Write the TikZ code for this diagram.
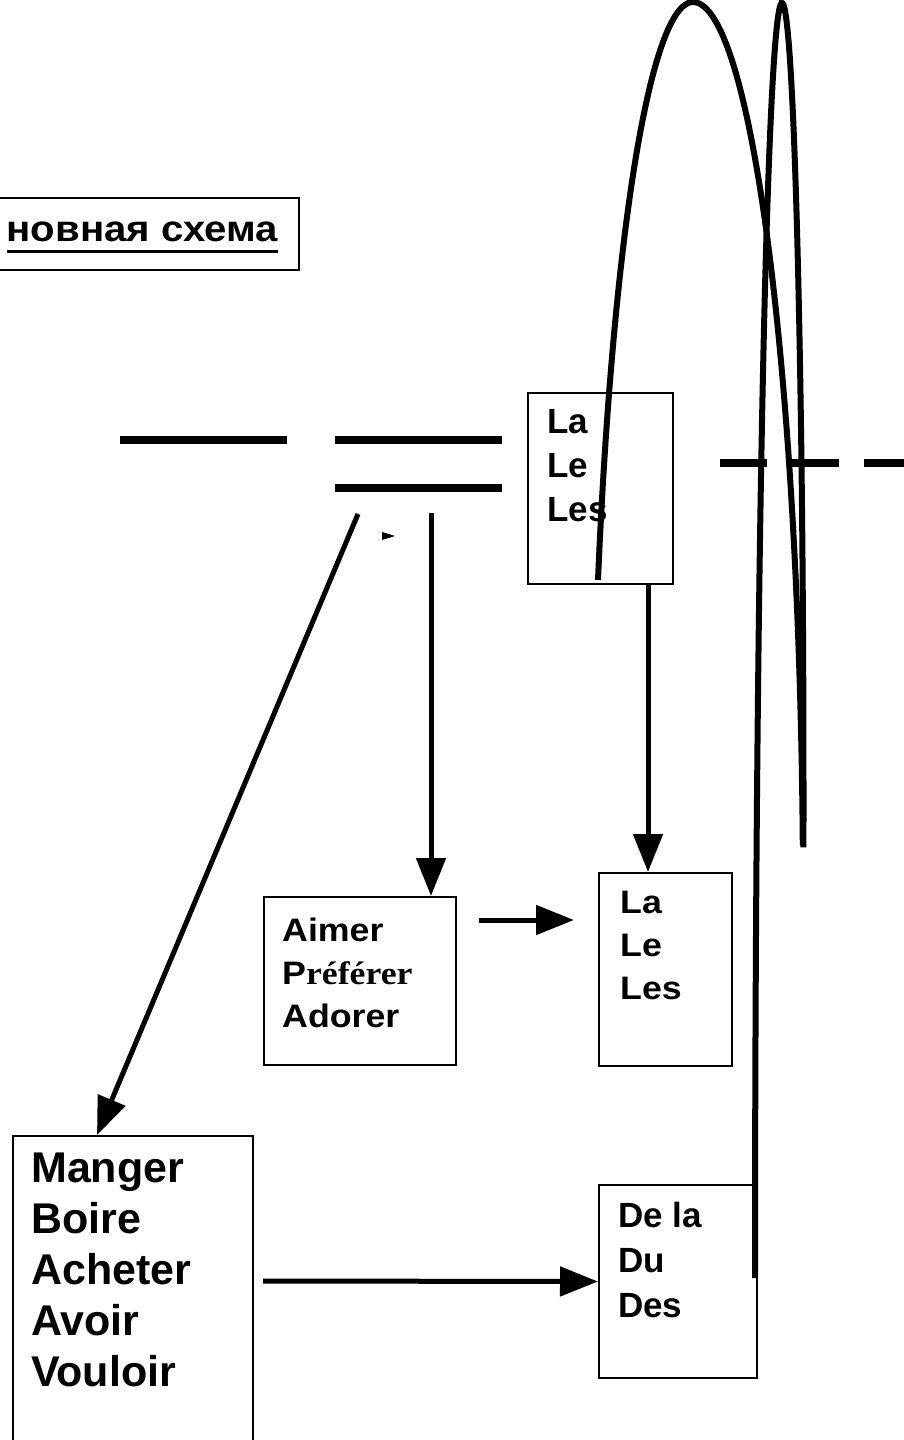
\documentclass[tikz,border=0pt]{standalone}
\usepackage{fontspec}
\setmainfont{Liberation Sans}
\newfontfamily\widesans{Liberation Sans}[FakeStretch=1.1]
\newfontfamily\wideserif{Liberation Serif}[FakeStretch=1.1]
\usetikzlibrary{arrows.meta}

\tikzset{
  box/.style={draw, line width=2pt, inner sep=0pt, anchor=north west},
  words/.style={inner sep=0pt, anchor=north west, align=left},
  bigwords/.style={words, font=\fontsize{43}{51}\selectfont\bfseries},
  midwords/.style={words, font=\fontsize{35}{44}\selectfont\bfseries},
  widewords/.style={words, font=\widesans\fontsize{32.5}{43}\selectfont\bfseries},
  blank/.style={line width=8pt},
  arr/.style={line width=5pt, -{Triangle[length=38pt,width=29pt]}},
  loopline/.style={line width=6pt},
}

\begin{document}
\begin{tikzpicture}[x=1pt, y=-1pt]
  \useasboundingbox (0,0) rectangle (903,1440);

  % title
  \node[box, minimum width=318pt, minimum height=72pt] (ttlbox) at (-20,197) {};
  \node[inner sep=0pt, anchor=base east, font=\widesans\fontsize{36.5}{40}\selectfont\bfseries] (ttl) at (278,241) {новная схема};
  \draw[line width=3pt] ([yshift=-10pt]ttl.base west) -- ([yshift=-10pt]ttl.base east);

  % blanks of the sentence
  \draw[blank] (120,440) -- (287,440);
  \draw[blank] (335,440) -- (502,440);
  \draw[blank] (335,488) -- (502,488);
  \draw[blank, dash pattern=on 47pt off 25pt] (720,463) -- (910,463);

  % boxes
  \node[box, minimum width=145pt, minimum height=191pt] (art1) at (527,392) {};
  \node[midwords] (art1t) at (547,409) {La\\Le\\Les};

  \node[box, minimum width=192pt, minimum height=168pt] (lik) at (263,896) {};
  \node[widewords] (likt) at (282,918) {Aimer\\P{\wideserif référer}\\Adorer};

  \node[box, minimum width=133pt, minimum height=193pt] (art2) at (598,872) {};
  \node[widewords] (art2t) at (620,891) {La\\Le\\Les};

  \node[box, minimum width=240pt, minimum height=310pt] (vrb) at (12,1135) {};
  \node[bigwords] (vrbt) at (31,1153) {Manger\\Boire\\Acheter\\Avoir\\Vouloir};

  \node[box, minimum width=158pt, minimum height=193pt] (prt) at (598,1184) {};
  \node[midwords, font=\fontsize{35}{45}\selectfont\bfseries] (prtt) at (618,1202) {De la\\Du\\Des};

  % arrows
  \coordinate (d0) at (358,514);
  \coordinate (v0) at (431,513);
  \coordinate (h0) at (479,920);
  \coordinate (h1) at (574,920);
  \coordinate (b0) at (263,1281);
  \draw[arr] (d0) -- ([xshift=85pt]vrb.north west);
  \draw[arr] (v0) -- ([xshift=168pt]lik.north west);
  \draw[arr] ([xshift=121pt]art1.south west) -- ([xshift=50pt]art2.north west);
  \draw[arr] (h0) -- (h1);
  \draw[arr] (b0) -- (prt.west);
  \fill (382,532) -- (395,536) -- (382,540) -- cycle;

  % loops, each half is a piece of an ellipse
  \draw[loopline] plot[domain=159.12:90, samples=50] ({693+101.7*cos(\x)}, {900-898*sin(\x)})
    -- plot[domain=90:3.5, samples=50] ({693+110*cos(\x)}, {900-898*sin(\x)});
  \draw[loopline] plot[domain=180:90, samples=60] ({782+27*cos(\x)}, {1278-1275*sin(\x)})
    -- plot[domain=90:-3.4, samples=50] ({782+21.5*cos(\x)}, {800-797*sin(\x)});
\end{tikzpicture}
\end{document}
